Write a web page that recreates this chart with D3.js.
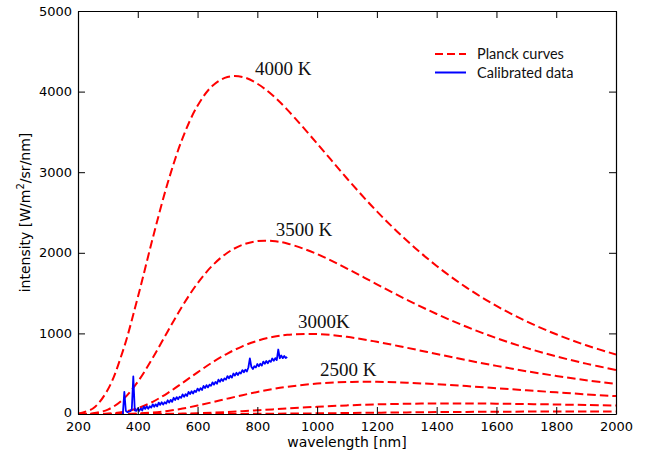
<!DOCTYPE html>
<html>
<head>
<meta charset="utf-8">
<script src="https://cdn.jsdelivr.net/npm/d3@7"></script>
<style>
  html, body { margin: 0; padding: 0; background: #fff; }
  svg { display: block; }
</style>
</head>
<body>
<svg id="chart" width="654" height="458"></svg>
<script>
// Wavelength grid (nm) shared by the blackbody curves
const planckNm = [200, 250, 300, 350, 400, 450, 500, 550, 600, 650, 700, 750, 800, 850, 900,
                  1000, 1100, 1200, 1300, 1400, 1500, 1600, 1700, 1800, 1900, 2000];

// Blackbody spectral radiance, W/m^2/sr/nm
const planck4000 = [5.8, 68.8, 304, 780, 1446, 2180, 2865, 3423, 3825, 4072, 4181, 4182, 4098, 3957, 3776,
                    3356, 2922, 2514, 2152, 1837, 1568, 1341, 1150, 989, 853, 738];
const planck3500 = [0.4, 8.8, 54.8, 179.8, 400, 696, 1024, 1344, 1622, 1843, 2001, 2099, 2145, 2147, 2116,
                    1985, 1805, 1609, 1418, 1241, 1082, 942, 820, 715, 625, 547];
const planck3000 = [0, 0.6, 5.6, 25.4, 72.2, 151.7, 260, 386.5, 517, 641.5, 750.5, 840, 908, 955, 983,
                    992, 957, 896, 822, 745, 668, 597, 531, 472, 419, 372];
const planck2500 = [0, 0, 0.2, 1.6, 6.6, 18, 38.2, 67.6, 104.6, 146.6, 190.5, 233.5, 273, 308, 337.5,
                    378, 397, 399, 388, 369, 346, 320, 294, 269, 244, 222];
const planck2000 = [0, 0, 0, 0.03, 0.18, 0.74, 2.15, 4.94, 9.5, 16, 24.4, 34.3, 45.2, 56.7, 68.1,
                    89.5, 107, 119.5, 127.2, 130.7, 130.7, 128.1, 123.6, 118, 111.6, 104.9];
const planck1500 = [0, 0, 0, 0, 0, 0, 0.02, 0.06, 0.17, 0.4, 0.79, 1.4, 2.26, 3.37, 4.74,
                    8.13, 12.1, 16.2, 20.1, 23.5, 26.2, 28.4, 29.8, 30.7, 31.1, 31];

// Curve labels
const curveLabels = ["4000 K", "3500 K", "3000K", "2500 K"];

// Calibrated spectrum, sampled every 5 nm from 350 to 900 nm
const measuredNm = d3.range(350, 901, 5);
const measured = [
  0, 275, 40, 22, 30, 36, 58, 465, 44, 38,
  70, 39, 70, 44, 92, 63, 96, 66, 97, 80,
  120, 89, 120, 94, 142, 113, 146, 116, 147, 130,
  170, 141, 175, 151, 201, 174, 210, 182, 215, 200,
  243, 214, 247, 223, 274, 247, 282, 254, 288, 273,
  315, 287, 321, 297, 348, 322, 358, 330, 364, 350,
  393, 364, 398, 375, 426, 399, 435, 408, 442, 427,
  470, 442, 475, 452, 502, 476, 511, 484, 517, 503,
  545, 517, 550, 527, 577, 690, 586, 559, 592, 578,
  620, 591, 624, 600, 650, 622, 657, 629, 662, 647,
  689, 660, 693, 669, 800, 692, 726, 693, 720, 695,
  708
];

// Axis ticks
const xTicks = [200, 400, 600, 800, 1000, 1200, 1400, 1600, 1800, 2000];
const yTicks = [0, 1000, 2000, 3000, 4000, 5000];

// Legend entries
const legendLabels = ["Planck curves", "Calibrated data"];

// ---------------------------------------------------------------
const svg = d3.select("#chart");
const plot = { left: 78, right: 616, top: 11, bottom: 414 };

const x = d3.scaleLinear().domain([200, 2000]).range([plot.left, plot.right]);
const y = d3.scaleLinear().domain([0, 5000]).range([plot.bottom, plot.top]);

svg.append("defs").append("clipPath").attr("id", "plot-clip")
  .append("rect")
  .attr("x", plot.left).attr("y", plot.top)
  .attr("width", plot.right - plot.left).attr("height", plot.bottom - plot.top);

const curves = [planck4000, planck3500, planck3000, planck2500, planck2000, planck1500];

const line = d3.line()
  .x(d => x(d[0]))
  .y(d => y(d[1]))
  .curve(d3.curveCatmullRom.alpha(0.5));

const marks = svg.append("g").attr("clip-path", "url(#plot-clip)");

curves.forEach(vals => {
  marks.append("path")
    .datum(planckNm.map((w, i) => [w, vals[i]]))
    .attr("d", line)
    .attr("fill", "none")
    .attr("stroke", "#ff0000")
    .attr("stroke-width", 2)
    .attr("stroke-dasharray", "8.5,4");
});

marks.append("path")
  .datum(measuredNm.map((w, i) => [w, measured[i]]))
  .attr("d", d3.line().x(d => x(d[0])).y(d => y(d[1])))
  .attr("fill", "none")
  .attr("stroke", "#0000ff")
  .attr("stroke-width", 1.8)
  .attr("stroke-linejoin", "round");

// Axes: ticks point inward on all four sides
const tickLen = 7;
const styleAxis = g => {
  g.selectAll(".domain").attr("stroke", "#000").attr("stroke-width", 1.2);
  g.selectAll(".tick line").attr("stroke", "#000").attr("stroke-width", 1);
  g.selectAll(".tick text")
    .attr("fill", "#000")
    .style("font-family", "'DejaVu Sans', sans-serif")
    .style("font-size", "13px");
};

svg.append("g")
  .attr("transform", `translate(0,${plot.bottom})`)
  .call(d3.axisBottom(x).tickValues(xTicks).tickFormat(d3.format("d"))
        .tickSizeInner(-tickLen).tickSizeOuter(0).tickPadding(8))
  .call(styleAxis);

svg.append("g")
  .attr("transform", `translate(0,${plot.top})`)
  .call(d3.axisTop(x).tickValues(xTicks).tickFormat("")
        .tickSizeInner(-tickLen).tickSizeOuter(0))
  .call(styleAxis);

svg.append("g")
  .attr("transform", `translate(${plot.left},0)`)
  .call(d3.axisLeft(y).tickValues(yTicks).tickFormat(d3.format("d"))
        .tickSizeInner(-tickLen).tickSizeOuter(0).tickPadding(6))
  .call(styleAxis);

svg.append("g")
  .attr("transform", `translate(${plot.right},0)`)
  .call(d3.axisRight(y).tickValues(yTicks).tickFormat("")
        .tickSizeInner(-tickLen).tickSizeOuter(0))
  .call(styleAxis);

// The zero label sits slightly above its tick so it clears the x labels
svg.selectAll("g.tick text").filter(d => d === 0).attr("dy", "0.2em");

// Axis titles
svg.append("text")
  .attr("x", (plot.left + plot.right) / 2)
  .attr("y", 447)
  .attr("text-anchor", "middle")
  .style("font-family", "'DejaVu Sans', sans-serif")
  .style("font-size", "14px")
  .attr("fill", "#000")
  .text("wavelength [nm]");

const yTitle = svg.append("text")
  .attr("transform", `translate(30,${(plot.top + plot.bottom) / 2}) rotate(-90)`)
  .attr("text-anchor", "middle")
  .style("font-family", "'DejaVu Sans', sans-serif")
  .style("font-size", "14px")
  .attr("fill", "#000");
yTitle.append("tspan").text("intensity [W/m");
yTitle.append("tspan").attr("dy", -6).style("font-size", "10px").text("2");
yTitle.append("tspan").attr("dy", 6).text("/sr/nm]");

// Temperature labels next to their curves (data coordinates)
const labelAt = [[792, 4206], [862, 2208], [936, 1067], [1010, 471]];
svg.append("g").selectAll("text")
  .data(curveLabels)
  .join("text")
  .attr("x", (d, i) => x(labelAt[i][0]))
  .attr("y", (d, i) => y(labelAt[i][1]))
  .style("font-family", "'Liberation Serif', serif")
  .style("font-size", "19px")
  .attr("fill", "#111")
  .text(d => d);

// Legend
const legend = svg.append("g").attr("transform", "translate(435,54)");
const legendStyles = [
  { stroke: "#ff0000", dash: "8,4" },
  { stroke: "#0000ff", dash: null }
];
legendLabels.forEach((lab, i) => {
  const row = legend.append("g").attr("transform", `translate(0,${i * 18.5})`);
  row.append("line")
    .attr("x1", 0).attr("x2", 31).attr("y1", 0).attr("y2", 0)
    .attr("stroke", legendStyles[i].stroke)
    .attr("stroke-width", 2)
    .attr("stroke-dasharray", legendStyles[i].dash);
  row.append("text")
    .attr("x", 42).attr("y", 5)
    .style("font-family", "Lato, sans-serif")
    .style("font-size", "14.5px")
    .attr("fill", "#111")
    .text(lab);
});
</script>
</body>
</html>
